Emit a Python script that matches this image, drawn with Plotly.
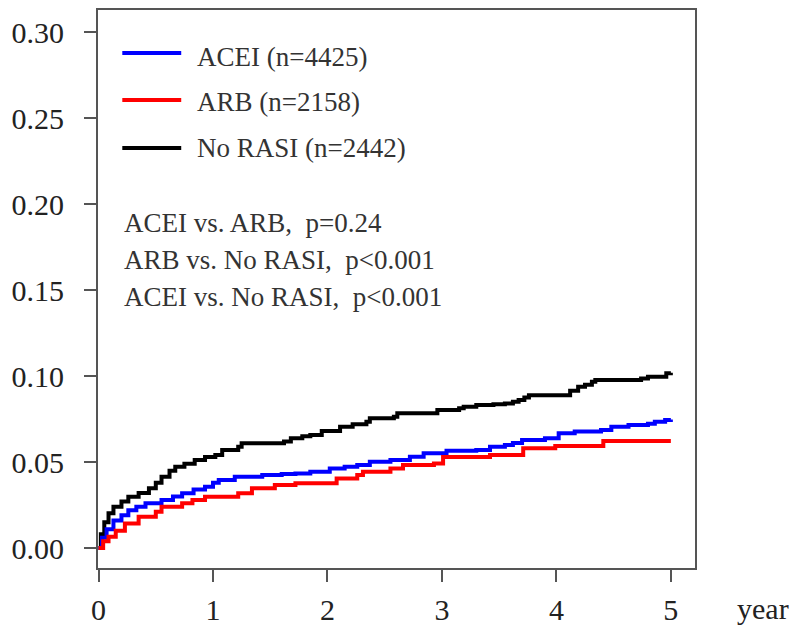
import plotly.graph_objects as go

# ---- data (cumulative incidence, step curves) ----
norasi_t = [0, 0.02, 0.05, 0.087, 0.13, 0.2, 0.26, 0.35, 0.44, 0.5, 0.55, 0.62, 0.67, 0.75, 0.84, 0.93,
            1.02, 1.08, 1.22, 1.25, 1.62, 1.68, 1.78, 1.85, 1.95, 2.11, 2.22, 2.34, 2.37, 2.58, 2.61,
            2.96, 3.15, 3.19, 3.30, 3.45, 3.55, 3.62, 3.67, 3.72, 3.76, 4.12, 4.19, 4.25, 4.31, 4.34,
            4.74, 4.80, 4.96, 5.0]
norasi_v = [0, 0.008, 0.015, 0.0202, 0.024, 0.027, 0.0298, 0.032, 0.0347, 0.038, 0.0415, 0.045, 0.0473,
            0.049, 0.0512, 0.053, 0.0541, 0.057, 0.0589, 0.0609, 0.062, 0.0638, 0.065, 0.0657, 0.068,
            0.0705, 0.072, 0.0734, 0.0754, 0.0763, 0.0783, 0.0802, 0.0812, 0.0822, 0.0831, 0.0836,
            0.0841, 0.085, 0.086, 0.0875, 0.0889, 0.0915, 0.0938, 0.095, 0.0967, 0.0977, 0.0985,
            0.0996, 0.1016, 0.1019]

acei_t = [0, 0.03, 0.07, 0.13, 0.2, 0.26, 0.33, 0.41, 0.55, 0.65, 0.73, 0.83, 0.93, 1.0, 1.05, 1.19,
          1.43, 1.6, 1.72, 1.85, 2.02, 2.15, 2.26, 2.37, 2.55, 2.72, 2.84, 3.04, 3.30, 3.42, 3.55, 3.62,
          3.70, 3.90, 4.02, 4.16, 4.39, 4.48, 4.63, 4.80, 4.86, 4.95, 5.0]
acei_v = [0, 0.006, 0.011, 0.016, 0.019, 0.022, 0.024, 0.026, 0.028, 0.030, 0.0318, 0.034, 0.0357,
          0.038, 0.0395, 0.0415, 0.0424, 0.043, 0.0434, 0.0444, 0.0463, 0.0473, 0.0483, 0.0502,
          0.0512, 0.0531, 0.0551, 0.0566, 0.057, 0.0589, 0.0599, 0.061, 0.0628, 0.0638, 0.0667,
          0.0677, 0.0686, 0.0705, 0.0715, 0.0722, 0.0734, 0.0744, 0.0748]

arb_t = [0, 0.04, 0.087, 0.15, 0.23, 0.35, 0.50, 0.55, 0.73, 0.82, 0.93, 1.22, 1.34, 1.54, 1.72, 2.08,
         2.26, 2.31, 2.55, 2.66, 2.93, 3.01, 3.42, 3.71, 3.99, 4.41, 5.0]
arb_v = [0, 0.004, 0.0066, 0.010, 0.0143, 0.0182, 0.0211, 0.024, 0.026, 0.028, 0.0298, 0.0318, 0.0347,
         0.0366, 0.0376, 0.0405, 0.0424, 0.0444, 0.0463, 0.0483, 0.0492, 0.053, 0.0541, 0.058,
         0.0593, 0.0622, 0.0622]

series_names = ["ACEI (n=4425)", "ARB (n=2158)", "No RASI (n=2442)"]
series_colors = ["#0000FF", "#FF0000", "#000000"]

x_tickvals = [0, 1, 2, 3, 4, 5]
x_ticktext = ["0", "1", "2", "3", "4", "5"]
y_tickvals = [0, 0.05, 0.10, 0.15, 0.20, 0.25, 0.30]
y_ticktext = ["0.00", "0.05", "0.10", "0.15", "0.20", "0.25", "0.30"]

pvalue_lines = ["ACEI vs. ARB,\u00a0\u00a0p=0.24",
                "ARB vs. No RASI,\u00a0\u00a0p<0.001",
                "ACEI vs. No RASI,\u00a0\u00a0p<0.001"]

FONT = "Liberation Serif, Times New Roman, serif"

fig = go.Figure()
for t, v, name, col in [(norasi_t, norasi_v, series_names[2], series_colors[2]),
                        (acei_t, acei_v, series_names[0], series_colors[0]),
                        (arb_t, arb_v, series_names[1], series_colors[1])]:
    fig.add_trace(go.Scatter(x=t, y=v, mode="lines", name=name,
                             line=dict(color=col, width=4, shape="hv"), showlegend=False))

# manual legend
leg_line_y = [0.9229, 0.8387, 0.7527]
leg_text_y = [0.916, 0.835, 0.752]
for i in range(3):
    fig.add_shape(type="line", xref="paper", yref="paper", x0=0.0407, x1=0.1394,
                  y0=leg_line_y[i], y1=leg_line_y[i],
                  line=dict(color=series_colors[i], width=4))
    fig.add_annotation(xref="paper", yref="paper", x=0.163, y=leg_text_y[i], text=series_names[i],
                       showarrow=False, xanchor="left", yanchor="middle",
                       font=dict(family=FONT, size=27, color="#333333"))

pv_y = [0.6183, 0.552, 0.4857]
for i in range(3):
    fig.add_annotation(xref="paper", yref="paper", x=0.0407, y=pv_y[i], text=pvalue_lines[i],
                       showarrow=False, xanchor="left", yanchor="middle",
                       font=dict(family=FONT, size=27, color="#333333"))

fig.add_annotation(xref="paper", yref="paper", x=1.067, y=-0.072, text="year",
                   showarrow=False, xanchor="left", yanchor="middle",
                   font=dict(family=FONT, size=30, color="#222222"))

axis_common = dict(showgrid=False, zeroline=False, showline=True, linecolor="#555555", linewidth=2,
                   mirror=True, ticks="outside", ticklen=12, tickwidth=2, tickcolor="#555555",
                   automargin=False,
                   tickfont=dict(family=FONT, size=30, color="#222222"))

fig.update_xaxes(range=[-0.005, 5.211], tickvals=x_tickvals, ticktext=x_ticktext,
                 ticklabelstandoff=2, **axis_common)
fig.update_yaxes(range=[-0.0116, 0.3128], tickvals=y_tickvals, ticktext=y_ticktext,
                 ticklabelstandoff=14, **axis_common)

fig.update_layout(width=794, height=627, margin=dict(l=98, r=99, t=10, b=59),
                  plot_bgcolor="white", paper_bgcolor="white")

fig.write_html("out.html")
